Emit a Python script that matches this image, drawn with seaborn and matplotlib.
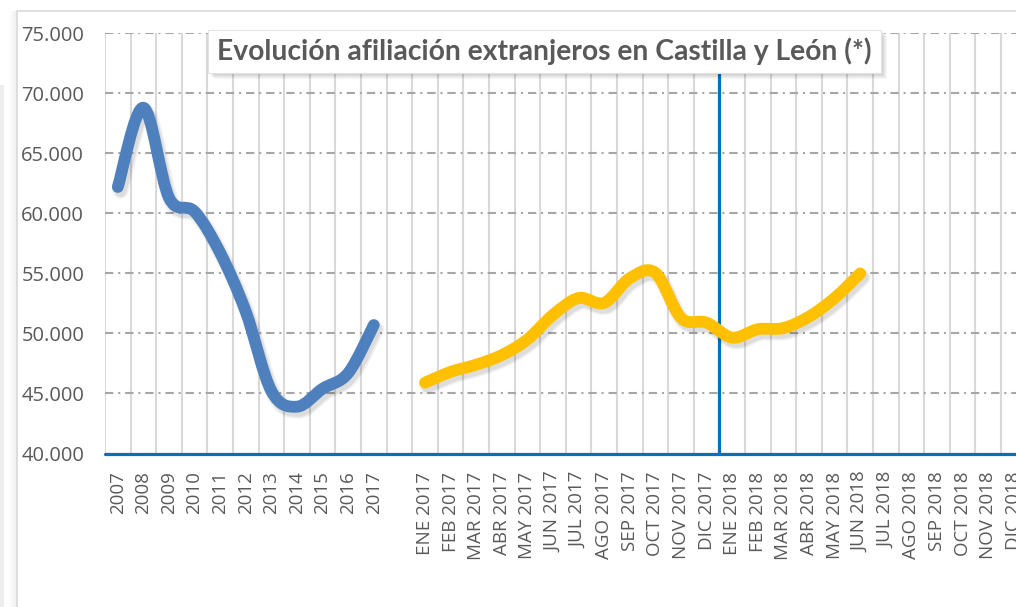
import matplotlib
matplotlib.use("Agg")
import matplotlib.pyplot as plt  # type: ignore
import seaborn as sns  # type: ignore
import numpy as np
from matplotlib.path import Path
from matplotlib.patches import PathPatch, Rectangle
from matplotlib.ticker import FuncFormatter, MultipleLocator
import matplotlib.patheffects as pe

# Data
years = ["2007", "2008", "2009", "2010", "2011", "2012", "2013", "2014", "2015", "2016", "2017"]
year_values = [62200, 68800, 61300, 60150, 56700, 51800, 45200, 43900, 45400, 46700, 50700]

months = ["ENE", "FEB", "MAR", "ABR", "MAY", "JUN", "JUL", "AGO", "SEP", "OCT", "NOV", "DIC"]
month_labels = [f"{m} 2017" for m in months] + [f"{m} 2018" for m in months]
month_values = [45900, 46800, 47400, 48200, 49500, 51550, 52950, 52550, 54600, 55050,
                51300, 50900, 49650, 50350, 50450, 51400, 52950, 55000]

categories = years + [""] + month_labels

# Constants
BLUE = "#4E80BD"
YELLOW = "#FFC000"
AXIS_BLUE = "#0070C0"
TEXT_GREY = "#595959"
W, H = 1016, 607


def smooth_path(xs, ys):
    # Excel-like smoothed line: cubic Bezier through every point (Catmull-Rom tangents)
    pts = np.column_stack([xs, ys]).astype(float)
    n = len(pts)
    verts = [pts[0]]
    codes = [Path.MOVETO]
    for i in range(n - 1):
        p_prev = pts[max(i - 1, 0)]
        p_next2 = pts[min(i + 2, n - 1)]
        c1 = pts[i] + (pts[i + 1] - p_prev) / 6
        c2 = pts[i + 1] - (p_next2 - pts[i]) / 6
        verts += [c1, c2, pts[i + 1]]
        codes += [Path.CURVE4] * 3
    return Path(verts, codes)


def draw_series(ax, xs, ys, color):
    patch = PathPatch(smooth_path(xs, ys), fill=False, edgecolor=color, lw=8.5,
                      capstyle="round", joinstyle="round", zorder=4)
    patch.set_path_effects([
        pe.SimpleLineShadow(offset=(2, -3), shadow_color="black", alpha=0.06, linewidth=11),
        pe.SimpleLineShadow(offset=(2, -3), shadow_color="black", alpha=0.08),
        pe.Normal(),
    ])
    ax.add_patch(patch)


sns.set_style("white")
plt.rcParams["font.family"] = ["Open Sans", "DejaVu Sans"]
plt.rcParams["lines.scale_dashes"] = False

fig = plt.figure(figsize=(W / 100, H / 100), dpi=100)
fig.patch.set_facecolor("white")

cat_w = 25.6
ax = fig.add_axes([105 / W, 1 - 453.5 / H, cat_w * len(categories) / W, (453.5 - 33.3) / H])
ax.set_facecolor("white")

x_year = np.arange(len(years))
x_month = np.arange(len(month_values)) + len(years) + 1

draw_series(ax, x_year, year_values, BLUE)
draw_series(ax, x_month, month_values, YELLOW)

ax.set_xlim(-0.5, len(categories) - 0.5)
ax.set_ylim(40000, 75000)

ax.set_xticks(np.arange(len(categories)))
ax.set_xticklabels(categories, rotation=90, fontsize=13.5, color=TEXT_GREY)
ax.xaxis.set_minor_locator(MultipleLocator(1, offset=0.5))
ax.yaxis.set_major_locator(MultipleLocator(5000))
ax.yaxis.set_major_formatter(FuncFormatter(lambda v, p: f"{v:,.0f}".replace(",", ".")))
ax.tick_params(axis="x", which="both", length=0, pad=13)
ax.tick_params(axis="y", length=0, pad=15, labelsize=14.5, labelcolor=TEXT_GREY)

ax.grid(False)
ax.grid(axis="x", which="minor", color="#D9D9D9", lw=1.5, zorder=0)
ax.grid(axis="y", which="major", color="#A6A6A6", lw=1.5,
        linestyle=(0, (6, 3.5, 1.5, 3.5)), zorder=0)
ax.set_axisbelow(True)
for s in ax.spines.values():
    s.set_visible(False)

ax.axhline(40000, color=AXIS_BLUE, lw=2.3, zorder=3, clip_on=False)
ax.axvline(len(years) + 12 + 0.5, color=AXIS_BLUE, lw=2.3, zorder=3)

# outer chart frame with a soft shadow on the left
for k in range(8):
    fig.patches.append(Rectangle(((9 + k) / W, -0.05), 1 / W, 1.05 - 11 / H,
                                 transform=fig.transFigure, color="black",
                                 alpha=0.008 * (k + 1), lw=0, zorder=1))
fig.patches.append(Rectangle((17 / W, -0.05), 1.1, 1.05 - 11 / H, transform=fig.transFigure,
                             fill=False, edgecolor="#D9D9D9", lw=1.2, zorder=1))
fig.patches.append(Rectangle((0, -0.05), 4 / W, 1.05 - 85 / H, transform=fig.transFigure,
                             color="#EDEDED", lw=0, zorder=1))

# title box with shadow
bx0, by0, bx1, by1 = 208, 30, 881, 73
for k in range(1, 7):
    fig.patches.append(Rectangle(((bx0 + k) / W, 1 - (by1 + k) / H), (bx1 - bx0) / W, (by1 - by0) / H,
                                 transform=fig.transFigure, color="black", alpha=0.035,
                                 lw=0, zorder=5))
fig.patches.append(Rectangle((bx0 / W, 1 - by1 / H), (bx1 - bx0) / W, (by1 - by0) / H,
                             transform=fig.transFigure, facecolor="white",
                             edgecolor="#E3E3E3", lw=0.8, zorder=6))
fig.text((bx0 + bx1) / 2 / W, 1 - (by0 + by1) / 2 / H,
         "Evolución afiliación extranjeros en Castilla y León (*)",
         ha="center", va="center", fontsize=20.3, fontweight="bold",
         color=TEXT_GREY, family=["Lato", "DejaVu Sans"], zorder=7)

fig.savefig("out.png", dpi=100)
